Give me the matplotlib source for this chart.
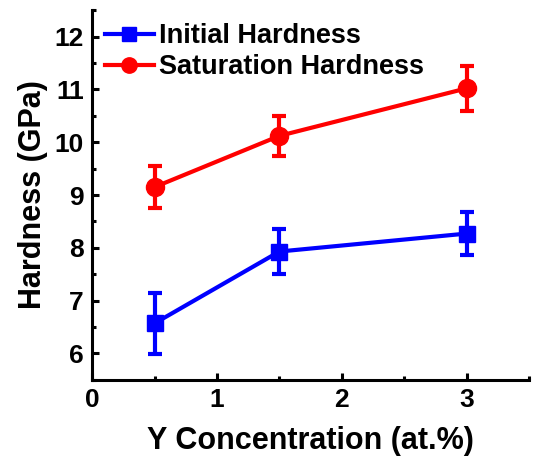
import matplotlib
matplotlib.use("Agg")
import matplotlib.pyplot as plt
from matplotlib.ticker import MultipleLocator

plt.rcParams['font.family'] = ['Liberation Sans', 'DejaVu Sans']
plt.rcParams['font.weight'] = 'bold'

x = [0.5, 1.5, 3.0]
initial = [6.57, 7.93, 8.27]
initial_err = [0.58, 0.42, 0.41]
saturation = [9.15, 10.12, 11.02]
saturation_err = [0.40, 0.38, 0.43]

fig = plt.figure(figsize=(5.45, 4.61), dpi=100)
ax = fig.add_axes([0.169, 0.176, 0.802, 0.802])

c1 = ax.errorbar(x, initial, yerr=initial_err, color='#0000ff', marker='s', markersize=12,
                 linewidth=3, elinewidth=3, capsize=5, capthick=3, label='Initial Hardness')
c2 = ax.errorbar(x, saturation, yerr=saturation_err, color='#ff0000', marker='o', markersize=13,
                 linewidth=3, elinewidth=3, capsize=5, capthick=3, label='Saturation Hardness')

ax.set_xlim(0, 3.5)
ax.set_ylim(5.5, 12.5)
ax.xaxis.set_major_locator(MultipleLocator(1))
ax.xaxis.set_minor_locator(MultipleLocator(0.5))
ax.yaxis.set_major_locator(MultipleLocator(1))
ax.yaxis.set_minor_locator(MultipleLocator(0.5))

for s in ['top', 'right']:
    ax.spines[s].set_visible(False)
for s in ['left', 'bottom']:
    ax.spines[s].set_linewidth(2.2)

ax.tick_params(which='major', direction='in', length=5, width=2.2, labelsize=19, pad=6)
ax.tick_params(which='minor', direction='in', length=3, width=2.2)
for lab in ax.get_xticklabels() + ax.get_yticklabels():
    lab.set_fontweight('bold')

ax.set_xlabel('Y Concentration (at.%)', fontsize=22, fontweight='bold', labelpad=10)
ax.set_ylabel('Hardness (GPa)', fontsize=22, fontweight='bold', labelpad=5)

leg = ax.legend(handles=[c1[0], c2[0]], labels=['Initial Hardness', 'Saturation Hardness'],
                loc='upper left', bbox_to_anchor=(0.008, 0.99), frameon=False,
                handlelength=1.8, markerscale=0.85,
                handletextpad=0.2, labelspacing=0.18, borderaxespad=0.15, borderpad=0.2,
                prop={'weight': 'bold', 'size': 19.5})

fig.savefig('out.png', dpi=100)
